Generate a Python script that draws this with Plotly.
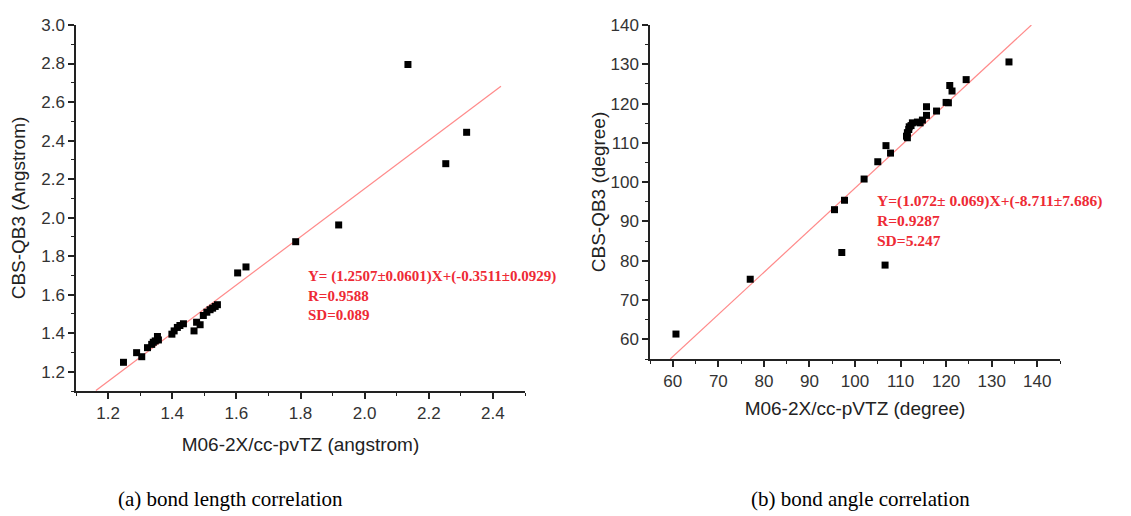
import plotly.graph_objects as go

# ---- data: (a) bond length (angstrom) ----
len_m06 = [1.248, 1.289, 1.305, 1.323, 1.336, 1.341, 1.347, 1.354, 1.357, 1.399,
           1.406, 1.416, 1.424, 1.435, 1.468, 1.476, 1.487, 1.497, 1.508, 1.518,
           1.526, 1.534, 1.541, 1.604, 1.630, 1.785, 1.919, 2.135, 2.253, 2.318]
len_cbs = [1.249, 1.299, 1.278, 1.325, 1.342, 1.353, 1.360, 1.383, 1.365, 1.395,
           1.412, 1.430, 1.440, 1.449, 1.412, 1.457, 1.444, 1.492, 1.509, 1.522,
           1.530, 1.539, 1.548, 1.713, 1.744, 1.875, 1.962, 2.795, 2.280, 2.443]
len_fit = dict(slope=1.2507, intercept=-0.3511, x0=1.1621, x1=2.425)

# ---- data: (b) bond angle (degree) ----
ang_m06 = [60.7, 77.0, 95.5, 97.7, 97.1, 102.0, 105.0, 106.8, 107.8, 106.6,
           111.3, 111.5, 111.5, 111.8, 111.9, 112.3, 112.6, 113.7, 114.3, 114.8,
           115.7, 115.7, 117.9, 120.0, 120.5, 120.8, 121.3, 124.4, 133.8]
ang_cbs = [61.35, 75.3, 93.0, 95.4, 82.1, 100.8, 105.2, 109.3, 107.4, 78.9,
           111.7, 111.3, 112.6, 113.4, 114.1, 114.4, 115.1, 115.3, 115.1, 115.8,
           119.2, 117.0, 118.1, 120.3, 120.2, 124.6, 123.2, 126.1, 130.6]
ang_fit = dict(slope=1.072, intercept=-8.711, x0=59.44, x1=138.72)

len_text = ["Y= (1.2507\u00b10.0601)X+(-0.3511\u00b10.0929)", "R=0.9588", "SD=0.089"]
ang_text = ["Y=(1.072\u00b1 0.069)X+(-8.711\u00b17.686)", "R=0.9287", "SD=5.247"]
captions = ["(a) bond length correlation", "(b) bond angle correlation"]

# page has an 8px body margin; figure sized so the page fits the window
OFF = 8
W, H = 1123, 508


def fx(px):
    return (px - OFF) / W


def fy(py):
    return 1 - (py - OFF) / H


RED_LINE = "#FF8A8A"
RED_TXT = "#EE2A35"
AX = "#222222"
SANS = "Liberation Sans, Arial, sans-serif"
SERIF = "Liberation Serif, Times New Roman, serif"
TICKFONT = dict(family=SANS, size=17, color="#333333")
TITLEFONT = dict(family=SANS, size=19, color="#222222")

fig = go.Figure()

for (xs, ys, fit, xa, ya) in [(len_m06, len_cbs, len_fit, "x", "y"),
                              (ang_m06, ang_cbs, ang_fit, "x2", "y2")]:
    lx = [fit["x0"], fit["x1"]]
    ly = [fit["slope"] * v + fit["intercept"] for v in lx]
    fig.add_trace(go.Scatter(x=lx, y=ly, mode="lines", xaxis=xa, yaxis=ya,
                             line=dict(color=RED_LINE, width=1.2), showlegend=False,
                             hoverinfo="skip"))
    fig.add_trace(go.Scatter(x=xs, y=ys, mode="markers", xaxis=xa, yaxis=ya,
                             marker=dict(symbol="square", size=7, color="black",
                                         line=dict(width=0)),
                             showlegend=False))


def axis(domain, rng, dtick, minor, title, standoff, anchor, fmt=None):
    d = dict(domain=domain, range=rng, dtick=dtick, tick0=0, anchor=anchor,
             showgrid=False, zeroline=False, showline=True, linecolor=AX,
             linewidth=1.5, ticks="outside", ticklen=6, tickwidth=1.5,
             tickcolor=AX, tickfont=TICKFONT,
             minor=dict(dtick=minor, ticks="outside", ticklen=3.5,
                        tickwidth=1.2, tickcolor=AX, showgrid=False),
             title=dict(text=title, font=TITLEFONT, standoff=standoff),
             automargin=False)
    if fmt:
        d["tickformat"] = fmt
    return d


fig.update_layout(
    width=W, height=H,
    margin=dict(l=0, r=0, t=0, b=0),
    plot_bgcolor="white", paper_bgcolor="white",
    xaxis=axis([fx(76), fx(525)], [1.1, 2.5], 0.2, 0.1,
               "M06-2X/cc-pvTZ (angstrom)", 16, "y", ".1f"),
    yaxis=axis([fy(391), fy(25)], [1.1, 3.0], 0.2, 0.1,
               "CBS-QB3 (Angstrom)", 15, "x", ".1f"),
    xaxis2=axis([fx(650), fx(1060)], [55, 145], 10, 5,
                "M06-2X/cc-pVTZ (degree)", 12, "y2"),
    yaxis2=axis([fy(359), fy(25)], [55, 140], 10, 5,
                "CBS-QB3 (degree)", 0, "x2"),
)

fig.add_annotation(x=fx(306), y=fy(266), xref="paper", yref="paper",
                   xanchor="left", yanchor="top", align="left", showarrow=False,
                   text="<b>" + "<br>".join(len_text) + "</b>",
                   font=dict(family=SERIF, size=15, color=RED_TXT))
fig.add_annotation(x=fx(875), y=fy(190), xref="paper", yref="paper",
                   xanchor="left", yanchor="top", align="left", showarrow=False,
                   text="<b>" + "<br>".join(ang_text) + "</b>",
                   font=dict(family=SERIF, size=15.5, color=RED_TXT))

for cx, txt in [(230, captions[0]), (860, captions[1])]:
    fig.add_annotation(x=fx(cx), y=fy(499), xref="paper", yref="paper",
                       xanchor="center", yanchor="middle", showarrow=False,
                       text=txt, font=dict(family=SERIF, size=21, color="black"))

fig.write_html("out.html")
